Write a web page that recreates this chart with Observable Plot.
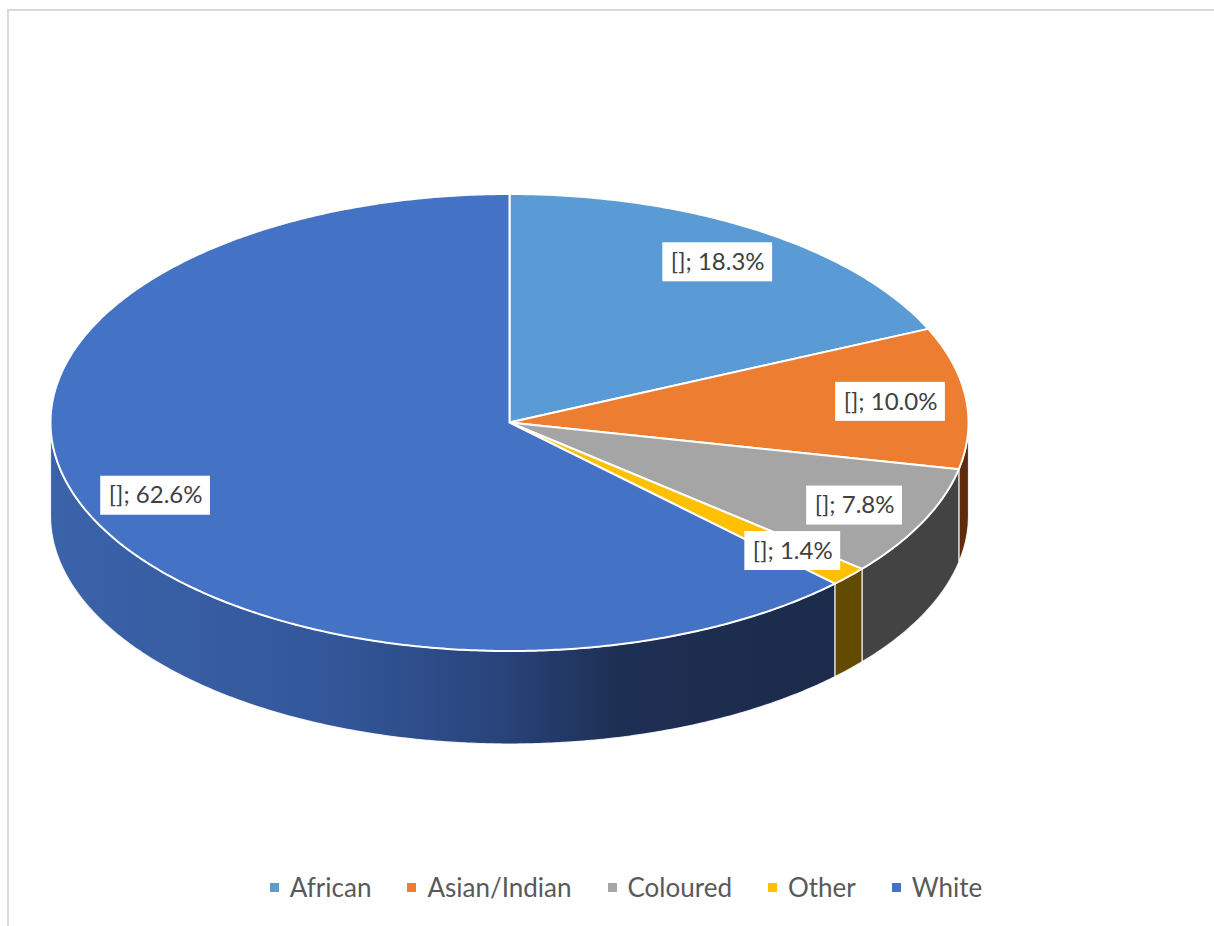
<!DOCTYPE html>
<html>
<head>
<meta charset="utf-8">
<script src="https://cdn.jsdelivr.net/npm/d3@7"></script>
<script src="https://cdn.jsdelivr.net/npm/@observablehq/plot@0.6"></script>
<style>
  html, body { margin: 0; padding: 0; background: #fff; overflow: hidden; }
  #wrap { position: relative; width: 1214px; height: 926px; }
  #chart { position: absolute; left: 0; top: 0; }
  #frame { position: absolute; left: 7px; top: 9px; width: 1240px; height: 960px;
           border-left: 2px solid #d9d9d9; border-top: 2px solid #d9d9d9; box-sizing: border-box; }
  #legend { position: absolute; left: 0; width: 1252px; top: 869px; height: 36px;
            display: flex; justify-content: center; align-items: center;
            font-family: Lato, "Open Sans", sans-serif; font-size: 26px; color: #595959; }
  .item { display: flex; align-items: center; margin: 0 18px; }
  .sw { width: 9px; height: 9px; margin-right: 11px; }
</style>
</head>
<body>
<div id="wrap">
  <div id="frame"></div>
  <div id="chart"></div>
  <div id="legend"></div>
</div>
<script>
const categories = ["African", "Asian/Indian", "Coloured", "Other", "White"];
const shares = [18.3, 10.0, 7.8, 1.4, 62.6];
const labels = ["[]; 18.3%", "[]; 10.0%", "[]; 7.8%", "[]; 1.4%", "[]; 62.6%"];
const topColors = ["#5b9bd5", "#ed7d31", "#a5a5a5", "#ffc000", "#4472c4"];
const sideColors = ["#2e5a85", "#5e2c0c", "#434343", "#624a00", "url(#whiteSide)"];

const DEPTH = 0.407;      // pie thickness in radius units (vertical)
const LABEL_R = 0.835;    // label radius in radius units
const total = d3.sum(shares);
const TAU = 2 * Math.PI;

let acc = 0;
const slices = categories.map((c, i) => {
  const a0 = acc / total * TAU;
  acc += shares[i];
  const a1 = acc / total * TAU;
  return {c, i, a0, a1, mid: (a0 + a1) / 2};
});

function arc(a0, a1, dy = 0) {
  const n = Math.max(2, Math.ceil((a1 - a0) / (Math.PI / 360)));
  const pts = [];
  for (let k = 0; k <= n; k++) {
    const a = a0 + (a1 - a0) * k / n;
    pts.push({x: Math.sin(a), y: Math.cos(a) - dy});
  }
  return pts;
}

const marks = [];
// gradient defs
marks.push(() => {
  const defs = d3.create("svg:defs");
  const g = defs.append("linearGradient").attr("id", "whiteSide")
    .attr("gradientUnits", "userSpaceOnUse").attr("x1", 50).attr("x2", 835).attr("y1", 0).attr("y2", 0);
  [[0, "#3b63aa"], [0.35, "#33579a"], [0.58, "#28437a"], [0.72, "#1d2f53"], [1, "#1b2b4b"]]
    .forEach(([o, col]) => g.append("stop").attr("offset", o).attr("stop-color", col));
  return defs.node();
});

// side walls (front half only)
slices.forEach(s => {
  const lo = Math.max(s.a0, Math.PI / 2), hi = Math.min(s.a1, 3 * Math.PI / 2);
  if (lo >= hi) return;
  const pts = [...arc(lo, hi), ...arc(lo, hi, DEPTH).reverse()];
  pts.push(pts[0]);
  marks.push(Plot.line(pts, {x: "x", y: "y", fill: sideColors[s.i], stroke: "#ffffff",
    strokeWidth: 1.2, strokeOpacity: 0.85, curve: "linear"}));
});

// top faces
slices.forEach(s => {
  const pts = [{x: 0, y: 0}, ...arc(s.a0, s.a1), {x: 0, y: 0}];
  marks.push(Plot.line(pts, {x: "x", y: "y", fill: topColors[s.i], stroke: "#ffffff",
    strokeWidth: 2, strokeLinejoin: "round", curve: "linear"}));
});

// labels with white boxes
const FS = 24;
const ctx = document.createElement("canvas").getContext("2d");
ctx.font = FS + "px Lato";
slices.forEach(s => {
  const d = {x: LABEL_R * Math.sin(s.mid), y: LABEL_R * Math.cos(s.mid), t: labels[s.i]};
  const hw = ctx.measureText(d.t).width / 2 + 8;
  marks.push(Plot.rect([d], {x1: "x", x2: "x", y1: "y", y2: "y",
    insetLeft: -hw, insetRight: -hw, insetTop: -19.5, insetBottom: -19.5, fill: "#ffffff"}));
  marks.push(Plot.text([d], {x: "x", y: "y", text: "t", fontSize: FS,
    fontFamily: "Lato, 'Open Sans', sans-serif", fill: "#404040"}));
});

const plot = Plot.plot({
  width: 1214,
  height: 926,
  margin: 0,
  x: {domain: [-1, 1], range: [50, 968], axis: null},
  y: {domain: [-1, 1], range: [650.5, 193.5], axis: null},
  style: {background: "transparent"},
  marks
});
document.getElementById("chart").appendChild(plot);

// legend
const legend = d3.select("#legend");
categories.forEach((c, i) => {
  const it = legend.append("div").attr("class", "item");
  it.append("div").attr("class", "sw").style("background", topColors[i]);
  it.append("span").text(c);
});
</script>
</body>
</html>
